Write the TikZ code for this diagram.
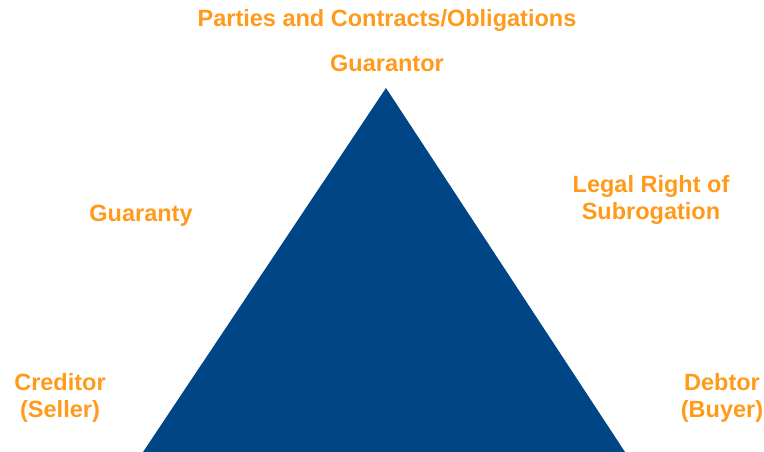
\documentclass[tikz,border=0pt]{standalone}
\usepackage{fontspec}
\setmainfont{Liberation Sans}
\definecolor{triblue}{RGB}{0,70,135}
\definecolor{partyorange}{RGB}{255,154,26}
\tikzset{
  party/.style={text=partyorange,font=\fontsize{23.5}{27}\selectfont\bfseries,align=center,inner sep=0pt},
}
\begin{document}
\begin{tikzpicture}[x=1pt,y=-1pt, line join=round]
            \def\xa{143} \def\xb{625} \def\xt{386} \def\yt{88} \def\yb{452} % triangle corners
            \useasboundingbox (0,0) rectangle (764,452);
            \fill[triblue] (\xa,\yb) -- (\xt,\yt) -- (\xb,\yb) -- cycle;
            \node[party] (title) at (387,20) {Parties and Contracts/Obligations};
            \node[party] (guarantor) at (387,63) {Guarantor};
            \node[party] (guaranty) at (141,216) {Guaranty};
            \node[party] (subrogation) at (651,200) {Legal Right of\\Subrogation};
            \node[party] (creditor) at (60,398) {Creditor\\(Seller)};
            \node[party] (debtor) at (722,398) {Debtor\\(Buyer)};
        \end{tikzpicture}
\end{document}
